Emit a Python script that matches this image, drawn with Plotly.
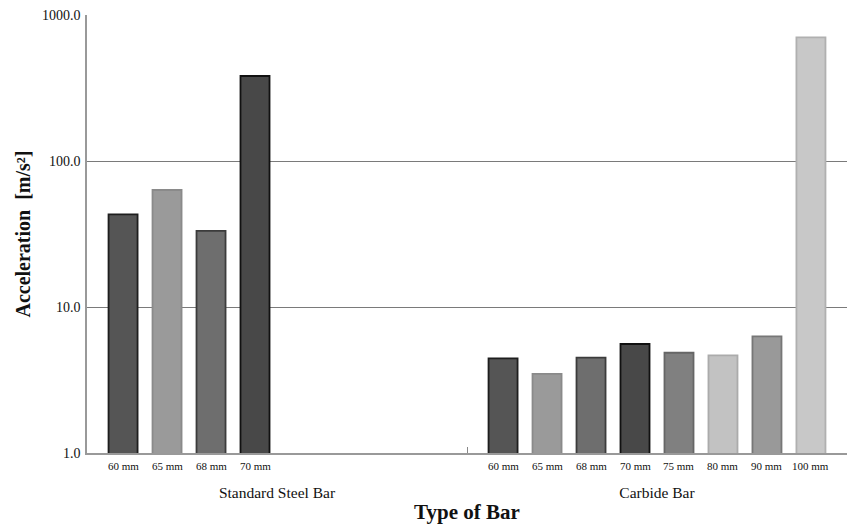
import plotly.graph_objects as go

# Bar types (x-axis groups) and nominal bar sizes
groups = ["Standard Steel Bar", "Carbide Bar"]
sizes = ["60 mm", "65 mm", "68 mm", "70 mm", "75 mm", "80 mm", "90 mm", "100 mm"]

# Measured acceleration [m/s²]; the steel bar was only tested up to 70 mm
accel_steel = [43.1, 63.3, 33.2, 382.0]
accel_carbide = [4.45, 3.48, 4.50, 5.58, 4.86, 4.67, 6.30, 703.0]

# Fill / outline shade for each bar size
fill_colors = ["#555555", "#9a9a9a", "#6e6e6e", "#484848", "#808080", "#c2c2c2", "#999999", "#c8c8c8"]
line_colors = ["#1e1e1e", "#8a8a8a", "#3c3c3c", "#111111", "#666666", "#ababab", "#777777", "#b0b0b0"]

y_ticks = [1, 10, 100, 1000]

SERIF = "Liberation Serif"
BARGAP = 0.074
n_slots = len(sizes)

fig = go.Figure()
for k, size in enumerate(sizes):
    steel_val = accel_steel[k] if k < len(accel_steel) else None
    fig.add_trace(go.Bar(
        x=groups,
        y=[steel_val, accel_carbide[k]],
        name=size,
        marker=dict(color=fill_colors[k], line=dict(color=line_colors[k], width=1.8)),
        showlegend=False,
    ))

# Size labels beneath each bar, placed at the grouped-bar slot centres
annotations = []
for g, vals in enumerate([accel_steel, accel_carbide]):
    for k in range(len(vals)):
        offset = (k - (n_slots - 1) / 2) * (1 - BARGAP) / n_slots
        annotations.append(dict(
            x=g + offset, y=0, xref="x", yref="paper",
            text=sizes[k], showarrow=False, yanchor="top", yshift=-5,
            font=dict(family=SERIF, size=11, color="#111111"),
        ))

fig.update_layout(
    width=849, height=526,
    margin=dict(l=87, r=2, t=15, b=73),
    paper_bgcolor="white", plot_bgcolor="white",
    barmode="group", bargap=BARGAP, bargroupgap=0.34,
    annotations=annotations,
    xaxis=dict(
        type="category", categoryorder="array", categoryarray=groups,
        range=[-0.5, 1.5], tickson="boundaries",
        ticks="inside", ticklen=6, tickcolor="#888888",
        showline=True, linecolor="#999999", linewidth=1.5,
        showgrid=False, ticklabelstandoff=25,
        tickfont=dict(family=SERIF, size=15.5, color="#111111"),
        title=dict(text="<b>Type of Bar</b>", standoff=4,
                   font=dict(family=SERIF, size=21, color="#111111")),
    ),
    yaxis=dict(
        type="log", range=[0, 3],
        tickvals=y_ticks, ticktext=[f"{v:.1f}" for v in y_ticks],
        showline=True, linecolor="#999999", linewidth=1.5,
        showgrid=True, gridcolor="#7a7a7a", gridwidth=1,
        ticks="", zeroline=False, ticklabelstandoff=2,
        tickfont=dict(family=SERIF, size=14, color="#111111"),
        title=dict(text="<b>Acceleration  [m/s²]</b>", standoff=6,
                   font=dict(family=SERIF, size=20, color="#111111")),
    ),
)

fig.write_html("out.html")
